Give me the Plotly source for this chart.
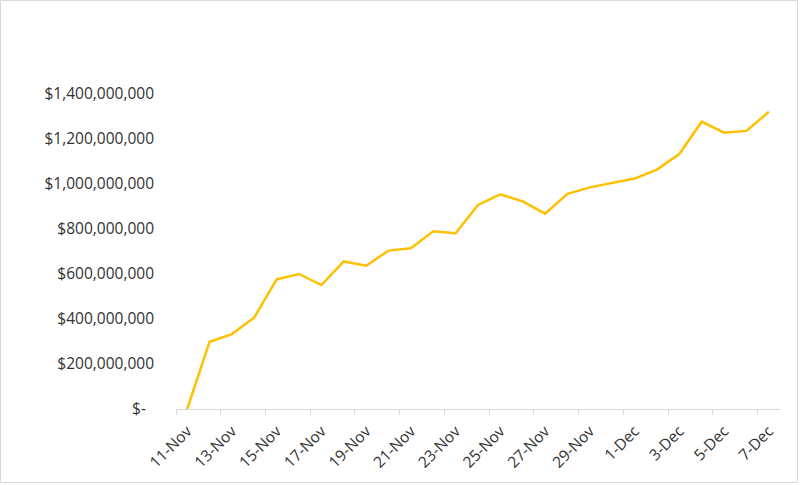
import plotly.graph_objects as go

dates = ["11-Nov", "12-Nov", "13-Nov", "14-Nov", "15-Nov", "16-Nov", "17-Nov", "18-Nov",
         "19-Nov", "20-Nov", "21-Nov", "22-Nov", "23-Nov", "24-Nov", "25-Nov", "26-Nov",
         "27-Nov", "28-Nov", "29-Nov", "30-Nov", "1-Dec", "2-Dec", "3-Dec", "4-Dec",
         "5-Dec", "6-Dec", "7-Dec"]
values = [0, 299e6, 333e6, 407e6, 576e6, 600e6, 551e6, 656e6, 637e6, 704e6, 714e6,
          790e6, 781e6, 907e6, 954e6, 923e6, 868e6, 956e6, 985e6, 1006e6, 1024e6,
          1064e6, 1133e6, 1277e6, 1228e6, 1236e6, 1321e6]
y_tick_vals = [0, 200e6, 400e6, 600e6, 800e6, 1000e6, 1200e6, 1400e6]
y_tick_text = ["$-\u00a0\u00a0", "$200,000,000", "$400,000,000", "$600,000,000",
               "$800,000,000", "$1,000,000,000", "$1,200,000,000", "$1,400,000,000"]

idx = list(range(len(dates)))
label_idx = idx[::2]

W, H = 800, 485
L, R, T, B = 176, 20, 94, 76
pw, ph = W - L - R, H - T - B
FS = 15.5
TXT = "#333333"

fig = go.Figure()
fig.add_trace(go.Scatter(x=idx, y=values, mode="lines",
                         line=dict(color="#FFC000", width=2.5), hoverinfo="skip"))

fig.update_layout(
    width=W, height=H,
    margin=dict(l=L, r=R, t=T, b=B),
    paper_bgcolor="white", plot_bgcolor="white",
    showlegend=False,
    font=dict(family="Open Sans", size=FS, color=TXT),
    xaxis=dict(
        range=[-0.5, len(dates) - 0.5],
        tickmode="array", tickvals=label_idx, ticktext=[dates[i] for i in label_idx],
        tickangle=-45, ticks="", showgrid=False, zeroline=False,
        showline=True, linecolor="#D9D9D9", linewidth=1,
        tickfont=dict(size=FS, color=TXT),
        ticklabelstandoff=6,
        minor=dict(tickmode="array", tickvals=[i - 0.5 for i in label_idx],
                   ticks="outside", ticklen=5, tickcolor="#D9D9D9", tickwidth=1,
                   showgrid=False),
    ),
    yaxis=dict(
        range=[0, 1400e6],
        tickmode="array", tickvals=y_tick_vals, ticktext=y_tick_text,
        showgrid=False, zeroline=False, showline=False, ticks="",
        ticklabelstandoff=21,
        tickfont=dict(size=FS, color=TXT),
    ),
    shapes=[dict(type="rect", xref="paper", yref="paper",
                 x0=-(L - 0.5) / pw, x1=1 + (R - 2.5) / pw,
                 y0=-(B - 2.5) / ph, y1=1 + (T - 0.5) / ph,
                 line=dict(color="#D9D9D9", width=1), layer="below")],
)

fig.write_html("out.html", config={"displayModeBar": False},
               post_script="document.body.style.margin='0';")
